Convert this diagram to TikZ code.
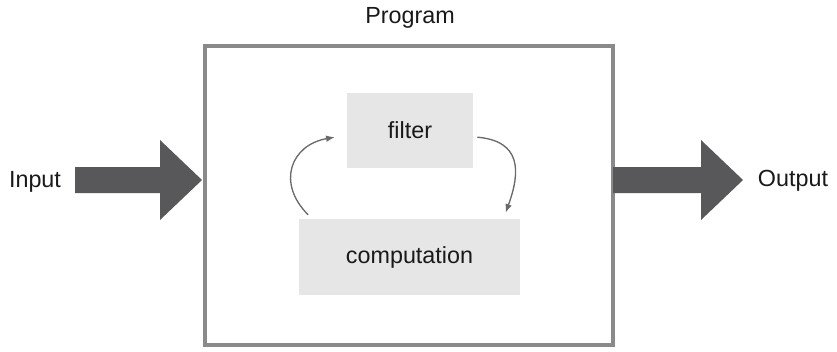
\documentclass[tikz,border=0pt]{standalone}
\usepackage{fontspec}
\setmainfont{Liberation Sans}
\usetikzlibrary{calc,arrows.meta}
\definecolor{framegray}{HTML}{8A8A8A}
\definecolor{arrowgray}{HTML}{58585A}
\definecolor{boxgray}{HTML}{E6E6E6}
\definecolor{loopgray}{HTML}{6A6A6A}
\tikzset{>={Latex[length=6.5pt,width=5pt]}}
\tikzset{
    frame/.style={draw=framegray,line width=3pt,minimum width=306pt,minimum height=224pt},
    stage/.style={fill=boxgray,inner sep=0pt},
    lbl/.style={font=\fontsize{17.5}{21}\selectfont,text=black!90},
    loop/.style={->,draw=loopgray,line width=1pt}
}
% fat arrow from #1 to the tip #2
\newcommand{\fatarrow}[2]{
    \fill[arrowgray] ($(#1)+(0,-13)$) -- ($(#2)+(-42,-13)$) -- ($(#2)+(-42,-40)$)
        -- (#2) -- ($(#2)+(-42,40)$) -- ($(#2)+(-42,13)$) -- ($(#1)+(0,13)$) -- cycle;
}

\begin{document}
\begin{tikzpicture}[x=0.75pt,y=-0.75pt]
    \useasboundingbox (0,0) rectangle (837,351);
    \node[frame] (prog) at (409,195.5) {};
    \node[lbl] (progname) at (410,18) {Program};
    \node[stage,minimum width=94.5pt,minimum height=56.25pt] (filter) at (410,130.5) {};
    \node[lbl] at (filter) {filter};
    \node[stage,minimum width=165.75pt,minimum height=57pt] (comp) at (409.5,257) {};
    \node[lbl] at (comp) {computation};
    \node[lbl] (in) at (35,182) {Input};
    \node[lbl] (out) at (793,181) {Output};
    \coordinate (instart) at (75,180);
    \coordinate (intip) at (202,180);
    \coordinate (outstart) at (613,180);
    \coordinate (outtip) at (743,180);
    \fatarrow{instart}{intip}
    \fatarrow{outstart}{outtip}
    \draw[loop] ([xshift=7pt,yshift=3pt]comp.north west) to[out=135,in=190,looseness=1.4] ([xshift=-9pt,yshift=-5pt]filter.west);
    \draw[loop] ([xshift=3pt,yshift=-5pt]filter.east) to[out=-5,in=70,looseness=1.4] ([xshift=-11pt,yshift=4.5pt]comp.north east);
\end{tikzpicture}
\end{document}
